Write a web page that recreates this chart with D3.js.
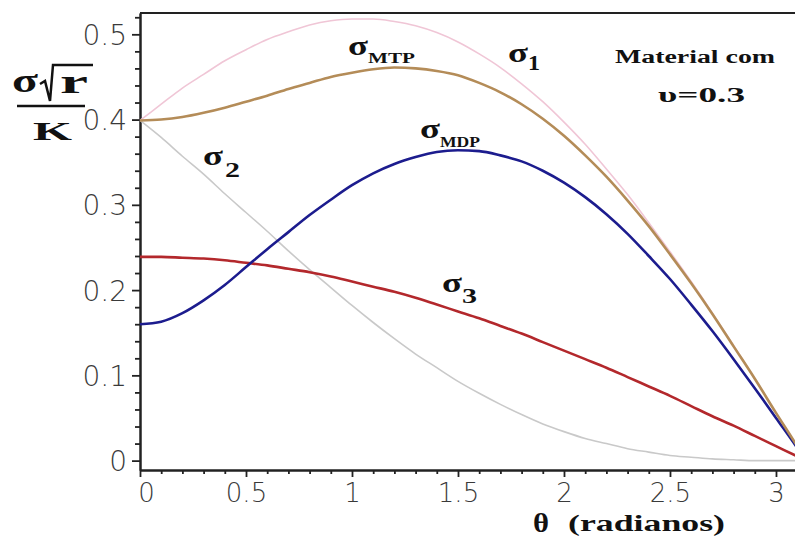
<!DOCTYPE html>
<html>
<head>
<meta charset="utf-8">
<script src="https://cdn.jsdelivr.net/npm/d3@7"></script>
<style>
  html, body { margin: 0; padding: 0; background: #fff; }
  svg { display: block; }
  .tick text { font-family: "DejaVu Sans", sans-serif; font-weight: 300; fill: #3a3a3a; }
  .lbl { font-family: "Liberation Serif", "Times New Roman", serif; font-weight: bold; fill: #111; }
</style>
</head>
<body>
<div id="chart"></div>
<script>
// theta in radians (step 0.1, last point = pi)
const theta = [0, 0.1, 0.2, 0.3, 0.4, 0.5, 0.6, 0.7, 0.8, 0.9, 1.0, 1.1, 1.2, 1.3, 1.4, 1.5,
  1.6, 1.7, 1.8, 1.9, 2.0, 2.1, 2.2, 2.3, 2.4, 2.5, 2.6, 2.7, 2.8, 2.9, 3.0, 3.1, 3.1416];

const sigma1 = [0.399, 0.418, 0.437, 0.453, 0.469, 0.482, 0.494, 0.503, 0.511, 0.516, 0.518,
  0.518, 0.515, 0.510, 0.502, 0.491, 0.477, 0.461, 0.442, 0.421, 0.397, 0.371, 0.342, 0.312,
  0.279, 0.245, 0.210, 0.173, 0.135, 0.096, 0.056, 0.017, 0];
const sigma2 = [0.399, 0.379, 0.357, 0.336, 0.313, 0.291, 0.269, 0.246, 0.224, 0.203, 0.182,
  0.162, 0.143, 0.125, 0.109, 0.093, 0.079, 0.066, 0.054, 0.043, 0.034, 0.026, 0.020, 0.014,
  0.010, 0.006, 0.004, 0.002, 0.001, 0.000, 0.000, 0.000, 0];
const sigma3 = [0.239, 0.239, 0.238, 0.237, 0.235, 0.232, 0.229, 0.225, 0.221, 0.216, 0.210,
  0.204, 0.198, 0.191, 0.183, 0.175, 0.167, 0.158, 0.149, 0.139, 0.129, 0.119, 0.109, 0.098,
  0.087, 0.076, 0.064, 0.052, 0.041, 0.029, 0.017, 0.005, 0];
const sigmaMTP = [0.399, 0.400, 0.403, 0.408, 0.414, 0.421, 0.428, 0.436, 0.443, 0.450, 0.455,
  0.459, 0.461, 0.460, 0.457, 0.452, 0.443, 0.432, 0.418, 0.401, 0.381, 0.358, 0.333, 0.305,
  0.275, 0.242, 0.208, 0.172, 0.134, 0.096, 0.056, 0.017, 0];
const sigmaMDP = [0.160, 0.163, 0.173, 0.188, 0.206, 0.227, 0.248, 0.268, 0.288, 0.306, 0.323,
  0.337, 0.348, 0.356, 0.362, 0.364, 0.363, 0.358, 0.351, 0.340, 0.326, 0.309, 0.289, 0.266,
  0.240, 0.213, 0.183, 0.152, 0.119, 0.085, 0.050, 0.015, 0];

const xTicks = [0, 0.5, 1, 1.5, 2, 2.5, 3];
const yTicks = [0, 0.1, 0.2, 0.3, 0.4, 0.5];

const W = 795, H = 538;

const svg = d3.select('#chart').append('svg')
  .attr('width', W).attr('height', H);

// plot box: left 140, top 13, bottom 470 (x extends past the right edge up to pi)
const x = d3.scaleLinear().domain([0, Math.PI]).range([140, 806]);
const y = d3.scaleLinear().domain([-0.011, 0.525]).range([470, 13]);

// minor ticks
const xMinor = d3.range(0, 3.15, 0.1).filter(v => Math.abs(v * 2 - Math.round(v * 2)) > 1e-6);
const yMinor = d3.range(0, 0.525, 0.02).filter(v => Math.abs(v * 10 - Math.round(v * 10)) > 1e-6);

const gxMinor = svg.append('g').attr('transform', 'translate(0,470)')
  .call(d3.axisBottom(x).tickValues(xMinor).tickSize(4).tickSizeOuter(0).tickFormat(''));
const gyMinor = svg.append('g').attr('transform', 'translate(140,0)')
  .call(d3.axisLeft(y).tickValues(yMinor).tickSize(5).tickSizeOuter(0).tickFormat(''));

const gx = svg.append('g').attr('transform', 'translate(0,470)')
  .call(d3.axisBottom(x).tickValues(xTicks).tickSize(7).tickSizeOuter(0)
    .tickPadding(4).tickFormat(d => String(d)));
const gy = svg.append('g').attr('transform', 'translate(140,0)')
  .call(d3.axisLeft(y).tickValues(yTicks).tickSize(8).tickSizeOuter(0)
    .tickPadding(5).tickFormat(d => d === 0 ? '0' : d3.format('.1f')(d)));

[gxMinor, gyMinor, gx, gy].forEach(g => {
  g.selectAll('.domain').attr('stroke', '#222').attr('stroke-width', 2);
  g.selectAll('.tick line').attr('stroke', '#222').attr('stroke-width', 1.8);
});
gx.selectAll('.tick text').attr('font-size', 26).attr('dy', '0.8em');
gx.selectAll('.tick text').filter(d => d === 0).attr('dx', 6);
gy.selectAll('.tick text').attr('font-size', 28).attr('dy', '0.36em');

// top and right frame
svg.append('path')
  .attr('d', `M140,${y.range()[1]}H806V470`)
  .attr('fill', 'none').attr('stroke', '#222').attr('stroke-width', 2);

// curves
const line = d3.line()
  .x((d, i) => x(theta[i]))
  .y(d => y(d))
  .curve(d3.curveMonotoneX);

const series = [
  { values: sigma2, color: '#c9c9c9', width: 1.6 },
  { values: sigma1, color: '#f0c6d6', width: 1.6 },
  { values: sigma3, color: '#b3282c', width: 2.6 },
  { values: sigmaMDP, color: '#1c1c8e', width: 2.6 },
  { values: sigmaMTP, color: '#b48c58', width: 2.6 }
];

svg.append('g').selectAll('path')
  .data(series)
  .join('path')
  .attr('d', d => line(d.values))
  .attr('fill', 'none')
  .attr('stroke', d => d.color)
  .attr('stroke-width', d => d.width);

// text helper (source image is stretched horizontally, so fit widths)
function label(px, py, str, size, len) {
  const t = svg.append('text').attr('class', 'lbl')
    .attr('x', px).attr('y', py).attr('font-size', size).text(str);
  if (len) t.attr('textLength', len).attr('lengthAdjust', 'spacingAndGlyphs');
  return t;
}

// curve labels
label(348, 55, 'σ', 28, 20); label(368, 63, 'MTP', 15, 47);
label(508, 62, 'σ', 28, 20); label(528, 70, '1', 22, 12);
label(420, 138, 'σ', 28, 20); label(440, 147, 'MDP', 15, 40);
label(203, 165, 'σ', 28, 20); label(225, 177, '2', 22, 15);
label(442, 292, 'σ', 28, 20); label(462, 303, '3', 22, 15);

label(615, 63, 'Material com', 18, 160);
label(658, 102, 'υ=0.3', 21, 87);

// x axis title
label(533, 532, 'θ', 27, 16);
label(568, 531, '(radianos)', 24, 157);

// y axis title: sigma sqrt(r) / K
label(12, 92, 'σ', 34, 26);
svg.append('path')
  .attr('d', 'M40,84 L45,81 L50,101 L53,65 L93,65')
  .attr('fill', 'none').attr('stroke', '#111').attr('stroke-width', 2.5)
  .attr('stroke-linejoin', 'miter');
label(60, 93, 'r', 34, 28);
svg.append('line')
  .attr('x1', 17).attr('x2', 85).attr('y1', 106).attr('y2', 106)
  .attr('stroke', '#111').attr('stroke-width', 2.5);
label(33, 140, 'K', 26, 39);
</script>
</body>
</html>
